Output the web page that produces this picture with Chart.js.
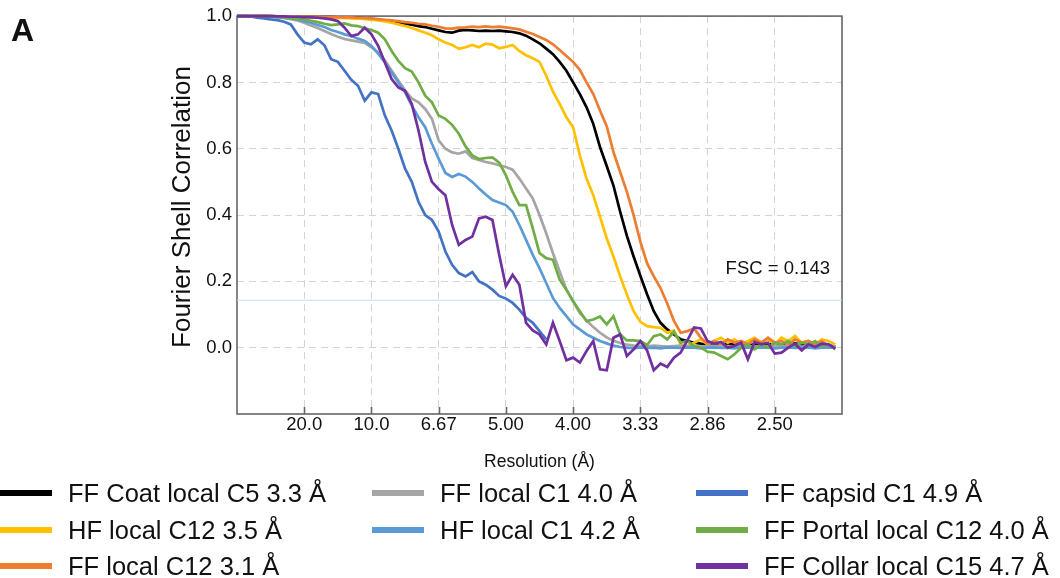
<!DOCTYPE html>
<html>
<head>
<meta charset="utf-8">
<title>Fourier Shell Correlation</title>
<script src="https://cdn.jsdelivr.net/npm/chart.js@4.4.0/dist/chart.umd.min.js"></script>
<style>
  html, body { margin: 0; padding: 0; background: #fff; }
  body { width: 1060px; height: 578px; position: relative; overflow: hidden;
         font-family: "Liberation Sans", Arial, sans-serif; color: #111; }
  #fsc { position: absolute; left: 0; top: 0; }
  #panel { position: absolute; left: 11px; top: 14px; font-size: 32px; line-height: 32px; font-weight: bold; }
  .leg { position: absolute; height: 0; }
  .leg .swatch { position: absolute; left: 0; top: -3px; width: 52px; height: 6px; }
  .leg .txt { position: absolute; left: 68px; top: -15px; font-size: 25.5px; line-height: 30px; white-space: nowrap; }
</style>
</head>
<body>
<canvas id="fsc" width="1060" height="578"></canvas>
<div id="panel">A</div>
<div id="legend"></div>

<script>
// spatial frequency (1/Å) the curves are sampled at
const freq = [0.000, 0.005, 0.010, 0.015, 0.020, 0.025, 0.030, 0.035, 0.040, 0.045,
  0.050, 0.055, 0.060, 0.065, 0.070, 0.075, 0.080, 0.085, 0.090, 0.095,
  0.100, 0.105, 0.110, 0.115, 0.120, 0.125, 0.130, 0.135, 0.140, 0.145,
  0.150, 0.155, 0.160, 0.165, 0.170, 0.175, 0.180, 0.185, 0.190, 0.195,
  0.200, 0.205, 0.210, 0.215, 0.220, 0.225, 0.230, 0.235, 0.240, 0.245,
  0.250, 0.255, 0.260, 0.265, 0.270, 0.275, 0.280, 0.285, 0.290, 0.295,
  0.300, 0.305, 0.310, 0.315, 0.320, 0.325, 0.330, 0.335, 0.340, 0.345,
  0.350, 0.355, 0.360, 0.365, 0.370, 0.375, 0.380, 0.385, 0.390, 0.395,
  0.400, 0.405, 0.410, 0.415, 0.420, 0.425, 0.430, 0.435, 0.440, 0.445];

// FSC values, one list per map
const ffCoatC5 = [1.000, 1.000, 1.000, 1.000, 1.000, 1.000, 0.999, 0.999, 0.999, 0.998,
  0.998, 0.998, 0.997, 0.997, 0.997, 0.996, 0.995, 0.995, 0.994, 0.993,
  0.991, 0.989, 0.986, 0.984, 0.980, 0.977, 0.974, 0.970, 0.967, 0.962,
  0.957, 0.952, 0.950, 0.956, 0.958, 0.957, 0.955, 0.956, 0.955, 0.956,
  0.954, 0.952, 0.948, 0.941, 0.930, 0.918, 0.902, 0.885, 0.862, 0.835,
  0.800, 0.765, 0.725, 0.675, 0.605, 0.548, 0.489, 0.410, 0.337, 0.275,
  0.217, 0.161, 0.110, 0.075, 0.055, 0.040, 0.025, 0.020, 0.015, 0.012,
  0.010, 0.008, 0.011, 0.009, 0.012, 0.010, 0.007, 0.010, 0.012, 0.009,
  0.011, 0.008, 0.010, 0.013, 0.009, 0.011, 0.008, 0.010, 0.006, 0.004];

const hfLocalC12 = [1.000, 1.000, 1.000, 1.000, 1.000, 1.000, 0.999, 0.999, 0.999, 0.998,
  0.998, 0.997, 0.997, 0.996, 0.995, 0.995, 0.994, 0.993, 0.992, 0.991,
  0.989, 0.987, 0.984, 0.980, 0.975, 0.970, 0.964, 0.957, 0.950, 0.942,
  0.930, 0.920, 0.913, 0.901, 0.906, 0.913, 0.906, 0.917, 0.914, 0.903,
  0.907, 0.913, 0.895, 0.882, 0.873, 0.862, 0.820, 0.772, 0.735, 0.695,
  0.665, 0.580, 0.510, 0.460, 0.395, 0.330, 0.275, 0.215, 0.160, 0.110,
  0.078, 0.065, 0.062, 0.060, 0.045, 0.052, 0.010, 0.005, 0.015, 0.025,
  0.010, 0.020, 0.030, 0.015, 0.025, 0.010, 0.020, 0.030, 0.015, 0.025,
  0.010, 0.030, 0.020, 0.035, 0.015, 0.020, 0.010, 0.025, 0.020, 0.010];

const ffLocalC12 = [1.000, 1.000, 1.000, 1.000, 1.000, 1.000, 0.999, 0.999, 0.999, 0.999,
  0.998, 0.998, 0.998, 0.997, 0.997, 0.997, 0.996, 0.996, 0.995, 0.994,
  0.993, 0.991, 0.989, 0.987, 0.985, 0.982, 0.980, 0.977, 0.975, 0.971,
  0.968, 0.963, 0.962, 0.965, 0.966, 0.968, 0.967, 0.969, 0.967, 0.968,
  0.966, 0.963, 0.960, 0.953, 0.946, 0.937, 0.928, 0.915, 0.898, 0.880,
  0.862, 0.838, 0.800, 0.765, 0.715, 0.668, 0.590, 0.530, 0.470, 0.400,
  0.320, 0.255, 0.215, 0.180, 0.133, 0.081, 0.045, 0.050, 0.058, 0.030,
  0.012, 0.020, 0.010, 0.025, 0.015, 0.020, 0.010, 0.025, 0.015, 0.030,
  0.015, 0.020, 0.008, 0.025, 0.015, 0.020, 0.010, 0.020, 0.005, 0.000];

const ffLocalC1 = [1.000, 1.000, 1.000, 1.000, 1.000, 0.999, 0.997, 0.994, 0.991, 0.987,
  0.980, 0.972, 0.964, 0.955, 0.946, 0.938, 0.931, 0.927, 0.923, 0.919,
  0.906, 0.890, 0.866, 0.836, 0.806, 0.776, 0.752, 0.740, 0.720, 0.690,
  0.625, 0.600, 0.589, 0.585, 0.592, 0.572, 0.566, 0.560, 0.556, 0.550,
  0.545, 0.537, 0.510, 0.480, 0.450, 0.400, 0.345, 0.285, 0.230, 0.175,
  0.140, 0.105, 0.082, 0.062, 0.045, 0.031, 0.021, 0.014, 0.009, 0.006,
  0.005, 0.004, 0.006, 0.005, 0.003, 0.005, 0.006, 0.004, 0.005, 0.003,
  0.005, 0.006, 0.004, 0.005, 0.004, 0.006, 0.005, 0.003, 0.005, 0.004,
  0.006, 0.005, 0.004, 0.005, 0.003, 0.005, 0.004, 0.006, 0.005, 0.004];

const hfLocalC1 = [1.000, 1.000, 1.000, 1.000, 1.000, 0.999, 0.997, 0.995, 0.993, 0.990,
  0.985, 0.980, 0.973, 0.967, 0.958, 0.952, 0.945, 0.940, 0.932, 0.925,
  0.910, 0.887, 0.860, 0.830, 0.800, 0.770, 0.730, 0.695, 0.665, 0.615,
  0.570, 0.527, 0.515, 0.524, 0.516, 0.500, 0.480, 0.462, 0.445, 0.438,
  0.430, 0.410, 0.370, 0.325, 0.280, 0.240, 0.195, 0.150, 0.120, 0.095,
  0.070, 0.055, 0.040, 0.030, 0.020, 0.013, 0.006, 0.002, 0.000, -0.002,
  0.001, -0.001, 0.000, -0.002, 0.001, 0.000, -0.001, 0.001, 0.000, -0.002,
  0.000, 0.001, -0.001, 0.000, -0.002, 0.001, 0.000, -0.001, 0.001, 0.000,
  -0.002, 0.000, 0.001, -0.001, 0.000, 0.001, -0.002, 0.000, 0.001, 0.000];

// capsid map stops at its Nyquist limit
const ffCapsidC1 = [1.000, 1.000, 0.999, 0.995, 0.993, 0.990, 0.988, 0.983, 0.975, 0.945,
  0.920, 0.915, 0.930, 0.912, 0.870, 0.862, 0.835, 0.808, 0.790, 0.745,
  0.770, 0.765, 0.700, 0.655, 0.600, 0.540, 0.500, 0.440, 0.400, 0.385,
  0.350, 0.290, 0.250, 0.225, 0.215, 0.228, 0.200, 0.190, 0.175, 0.156,
  0.148, 0.135, 0.115, 0.090, 0.075, 0.050, 0.025];

const ffPortalC12 = [1.000, 1.000, 1.000, 1.000, 1.000, 0.999, 0.998, 0.996, 0.994, 0.992,
  0.990, 0.986, 0.982, 0.977, 0.973, 0.975, 0.978, 0.972, 0.970, 0.963,
  0.958, 0.950, 0.930, 0.895, 0.865, 0.843, 0.833, 0.800, 0.760, 0.740,
  0.700, 0.690, 0.672, 0.645, 0.607, 0.580, 0.569, 0.572, 0.574, 0.558,
  0.520, 0.470, 0.430, 0.430, 0.360, 0.285, 0.270, 0.265, 0.205, 0.175,
  0.140, 0.110, 0.080, 0.085, 0.094, 0.070, 0.095, 0.040, 0.022, 0.022,
  0.020, 0.008, 0.035, 0.040, 0.025, 0.048, 0.015, 0.020, 0.005, 0.000,
  -0.012, -0.015, -0.025, -0.035, -0.020, 0.000, 0.010, -0.005, 0.010, 0.000,
  0.015, 0.010, 0.020, 0.005, 0.015, 0.010, 0.020, 0.005, 0.010, -0.005];

const ffCollarC15 = [1.000, 1.000, 1.000, 1.000, 1.000, 1.000, 0.999, 0.999, 0.998, 0.998,
  0.997, 0.996, 0.995, 0.993, 0.990, 0.985, 0.965, 0.940, 0.945, 0.965,
  0.945, 0.910, 0.860, 0.810, 0.785, 0.775, 0.735, 0.655, 0.560, 0.500,
  0.478, 0.460, 0.370, 0.310, 0.325, 0.335, 0.390, 0.395, 0.385, 0.280,
  0.185, 0.220, 0.190, 0.075, 0.052, 0.040, 0.010, 0.075, 0.020, -0.038,
  -0.030, -0.045, -0.010, 0.020, -0.065, -0.068, 0.030, 0.040, -0.025, -0.005,
  0.020, -0.008, -0.068, -0.048, -0.058, -0.030, -0.015, 0.022, 0.061, 0.058,
  0.020, 0.012, 0.017, 0.000, 0.005, 0.015, -0.035, 0.017, 0.010, 0.015,
  -0.018, -0.015, 0.000, 0.012, -0.008, 0.010, 0.002, 0.012, 0.010, -0.003];

// axis ticks: positions in 1/Å, labels in Å
const resTickValues = [0.05, 0.10, 0.15, 0.20, 0.25, 0.30, 0.35, 0.40];
const resTickLabels = ['20.0', '10.0', '6.67', '5.00', '4.00', '3.33', '2.86', '2.50'];
const fscTickValues = [0.0, 0.2, 0.4, 0.6, 0.8, 1.0];
const fscThreshold = 0.143;

const series = [
  { label: 'FF Coat local C5 3.3 Å',     values: ffCoatC5,    color: '#000000' },
  { label: 'HF local C12 3.5 Å',         values: hfLocalC12,  color: '#FFC000' },
  { label: 'FF local C12 3.1 Å',         values: ffLocalC12,  color: '#ED7D31' },
  { label: 'FF local C1 4.0 Å',          values: ffLocalC1,   color: '#A5A5A5' },
  { label: 'HF local C1 4.2 Å',          values: hfLocalC1,   color: '#5B9BD5' },
  { label: 'FF capsid C1 4.9 Å',         values: ffCapsidC1,  color: '#4472C4' },
  { label: 'FF Portal local C12 4.0 Å',  values: ffPortalC12, color: '#70AD47' },
  { label: 'FF Collar local C15 4.7 Å',  values: ffCollarC15, color: '#7030A0' }
];

const FONT = '"Liberation Sans", Arial, sans-serif';
Chart.defaults.font.family = FONT;
Chart.defaults.color = '#111';

const datasets = series.map((s, i) => ({
  label: s.label,
  data: s.values.map((v, j) => ({ x: freq[j], y: v })),
  borderColor: s.color,
  borderWidth: 2.7,
  pointRadius: 0,
  tension: 0,
  fill: false,
  clip: false,
  order: series.length - i   // later maps sit on top
}));

// the 0.143 threshold
datasets.push({
  label: 'FSC = ' + fscThreshold,
  data: [{ x: 0, y: fscThreshold }, { x: 0.45, y: fscThreshold }],
  borderColor: '#c5dbf0',
  borderWidth: 1.2,
  pointRadius: 0,
  order: 100
});

// box around the plot, inward ticks, y title and the threshold note
const framePlugin = {
  id: 'frame',
  beforeDatasetsDraw(chart) {
    const { ctx, chartArea: a, scales: { x } } = chart;
    ctx.save();
    ctx.strokeStyle = '#666';
    ctx.lineWidth = 1.6;
    ctx.strokeRect(a.left, a.top, a.right - a.left, a.bottom - a.top);
    ctx.beginPath();
    resTickValues.forEach(v => {
      const px = Math.round(x.getPixelForValue(v)) + 0.5;
      ctx.moveTo(px, a.bottom);
      ctx.lineTo(px, a.bottom - 7);
    });
    ctx.stroke();

    // y axis title, a bit above the middle of the plot like the original
    ctx.font = '26px ' + FONT;
    ctx.fillStyle = '#111';
    ctx.textAlign = 'center';
    ctx.textBaseline = 'middle';
    ctx.translate(a.left - 54, (a.top + a.bottom) / 2 - 8);
    ctx.rotate(-Math.PI / 2);
    ctx.fillText('Fourier Shell Correlation', 0, 0);
    ctx.restore();
  },
  afterDatasetsDraw(chart) {
    const { ctx, chartArea: a, scales: { y } } = chart;
    ctx.save();
    ctx.font = '18.5px ' + FONT;
    ctx.fillStyle = '#111';
    ctx.textAlign = 'right';
    ctx.textBaseline = 'alphabetic';
    ctx.fillText('FSC = ' + fscThreshold.toFixed(3), a.right - 12, y.getPixelForValue(fscThreshold) - 26);
    ctx.restore();
  }
};

const gridColor = '#d4d4d4';

new Chart(document.getElementById('fsc'), {
  type: 'line',
  data: { datasets },
  options: {
    responsive: false,
    animation: false,
    devicePixelRatio: 1,
    events: [],
    layout: { padding: { left: 168, top: 12, right: 218, bottom: 105 } },
    plugins: { legend: { display: false }, tooltip: { enabled: false } },
    scales: {
      x: {
        type: 'linear',
        min: 0,
        max: 0.45,
        afterBuildTicks: scale => { scale.ticks = resTickValues.map(v => ({ value: v })); },
        afterFit: scale => { scale.height = 59; },
        ticks: {
          autoSkip: false,
          maxRotation: 0,
          padding: 0,
          font: { size: 18.5 },
          color: '#111',
          callback: (value, i) => resTickLabels[i]
        },
        grid: { color: gridColor, lineWidth: 1, drawTicks: false, borderDash: [7, 5] },
        border: { display: false, dash: [7, 5] },
        title: { display: true, text: 'Resolution (Å)', font: { size: 17.5 }, color: '#111', padding: 0 }
      },
      y: {
        min: -0.2,
        max: 1.0,
        afterBuildTicks: scale => { scale.ticks = fscTickValues.map(v => ({ value: v })); },
        afterFit: scale => { scale.width = 69; },
        ticks: {
          padding: 5,
          font: { size: 18.5 },
          color: '#111',
          callback: value => value.toFixed(1)
        },
        grid: { color: gridColor, lineWidth: 1, drawTicks: false, borderDash: [7, 5] },
        border: { display: false, dash: [7, 5] }
      }
    }
  },
  plugins: [framePlugin]
});

// legend laid out in three columns, filled top to bottom
const legendColumns = [[0, 1, 2], [3, 4], [5, 6, 7]];
const colLeft = [0, 372, 696];
const rowTop = [493, 530, 566];
const legend = document.getElementById('legend');
legendColumns.forEach((col, c) => {
  col.forEach((idx, r) => {
    const item = document.createElement('div');
    item.className = 'leg';
    item.style.left = colLeft[c] + 'px';
    item.style.top = rowTop[r] + 'px';
    item.innerHTML = '<span class="swatch" style="background:' + series[idx].color + '"></span>' +
                     '<span class="txt">' + series[idx].label + '</span>';
    legend.appendChild(item);
  });
});
</script>
</body>
</html>
